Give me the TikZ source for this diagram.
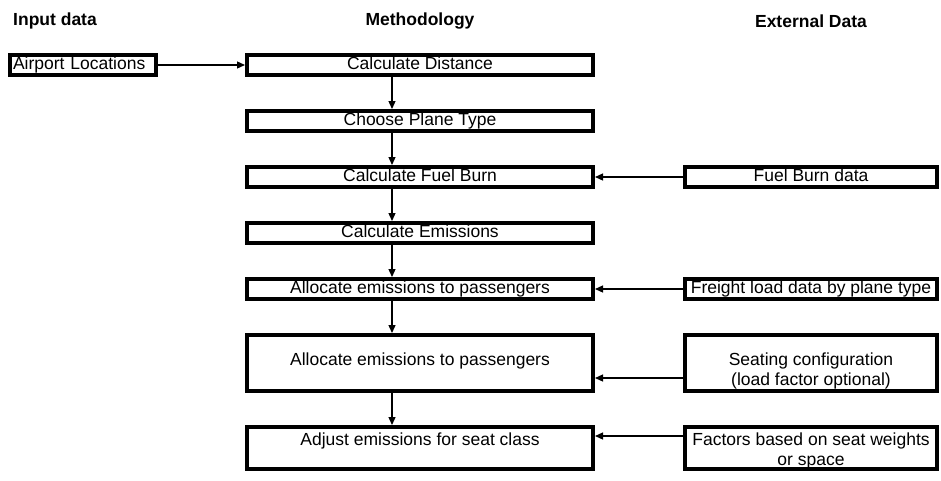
\documentclass[tikz,border=0pt]{standalone}
\usepackage{fontspec}
\setmainfont{Liberation Sans}
\usepackage{tikz}
\usetikzlibrary{arrows.meta,positioning}
\usepackage{xcolor}
\definecolor{ink}{RGB}{0,0,0}
\tikzset{
  stepbox/.style={draw=ink,line width=4pt,inner sep=0pt,minimum width=346pt,minimum height=20pt,
    text height=12.5pt,text depth=3.5pt,align=center},
  databox/.style={stepbox,minimum width=252pt},
  head/.style={font=\fontsize{17.5}{20}\selectfont\bfseries,inner sep=0pt},
  arr/.style={-{Triangle[length=8pt,width=7pt]},line width=1.3pt,ink},
}

\begin{document}
\begin{tikzpicture}[x=1pt,y=-1pt,font=\fontsize{17.5}{20}\selectfont,node distance=32pt and 88pt]
  \useasboundingbox (0,0) rectangle (941,480);
  % column heads
  \node[head,anchor=west] (hin) at (13,21) {Input data};
  \node[head] (hmeth) at (420,21) {Methodology};
  \node[head] (hext) at (811,21) {External Data};
  % methodology steps
  \node[stepbox] (dist) at (420,65) {Calculate Distance};
  \node[stepbox,below=of dist] (plane) {Choose Plane Type};
  \node[stepbox,below=of plane] (burn) {Calculate Fuel Burn};
  \node[stepbox,below=of burn] (emis) {Calculate Emissions};
  \node[stepbox,below=of emis] (alloc) {Allocate emissions to passengers};
  \node[stepbox,minimum height=56pt,text height=30pt,text depth=26pt,below=of alloc] (pax)
    {Allocate emissions to passengers};
  \node[stepbox,minimum height=42pt,text height=18pt,text depth=24pt,below=of pax] (cls)
    {Adjust emissions for seat class};
  % input and external data
  \node[stepbox,minimum width=146pt,text width=140pt,align=left,left=87pt of dist] (air)
    {Airport Locations};
  \node[databox,right=of burn] (burndata) {Fuel Burn data};
  \node[databox,right=of alloc] (freight) {Freight load data by plane type};
  \node[databox,minimum height=56pt,text height=50pt,text depth=6pt,right=of pax] (seats)
    {Seating configuration\\(load factor optional)};
  \node[databox,minimum height=42pt,text height=38pt,text depth=4pt,right=of cls] (factors)
    {Factors based on seat weights\\or space};
  % connectors
  \coordinate (axis) at (392,0);
  \draw[arr] (air) -- (dist);
  \foreach \a/\b in {dist/plane,plane/burn,burn/emis,emis/alloc,alloc/pax,pax/cls}
    \draw[arr] (\a.south -| axis) -- (\b.north -| axis);
  \draw[arr] (burndata) -- (burn);
  \draw[arr] (freight) -- (alloc);
  \draw[arr] ([yshift=-15pt]seats.west) -- ([yshift=-15pt]pax.east);
  \draw[arr] ([yshift=12pt]factors.west) -- ([yshift=12pt]cls.east);
\end{tikzpicture}
\end{document}
